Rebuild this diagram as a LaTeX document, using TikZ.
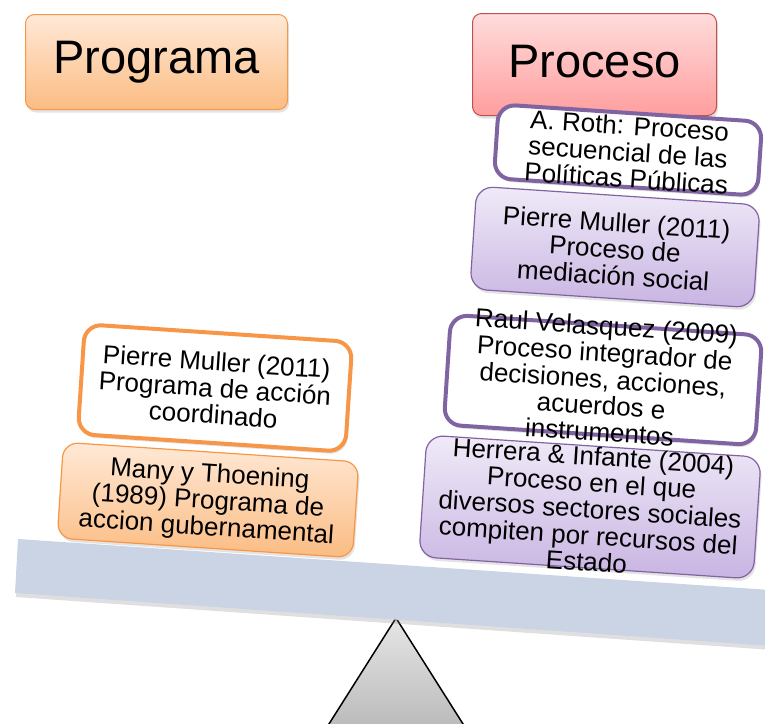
\documentclass[tikz,border=0pt]{standalone}
\usepackage{fontspec}
\setmainfont{Liberation Sans}
\usetikzlibrary{shadows,shapes.misc}
\definecolor{orB}{HTML}{F79646}
\definecolor{orT}{HTML}{FFE9D7}
\definecolor{orBot}{HTML}{FBBC82}
\definecolor{rdB}{HTML}{C0504D}
\definecolor{rdT}{HTML}{FFDCDC}
\definecolor{rdBot}{HTML}{FF9E9E}
\definecolor{puB}{HTML}{8064A2}
\definecolor{puT}{HTML}{F0EAF8}
\definecolor{puBot}{HTML}{C8B4E2}
\definecolor{beamC}{HTML}{CBD4E4}
\newcommand\boxfnt{\fontsize{26}{26.5}\selectfont}
\newcommand\ttlfnt{\fontsize{47}{50}\selectfont}
\tikzset{
  shd/.style={drop shadow={opacity=0.22,shadow xshift=1.5pt,shadow yshift=-3pt}},
  ttlbox/.style={rounded corners=9pt, line width=1pt, shd},
  tiltbox/.style={rotate=-3.8, inner sep=0pt},
  obox/.style={tiltbox, rounded corners=15pt, draw=orB, line width=1.2pt, top color=orT, bottom color=orBot, shd},
  owbox/.style={tiltbox, rounded corners=17pt, draw=orB, line width=4pt, fill=white, shd},
  pbox/.style={tiltbox, rounded corners=17pt, draw=puB, line width=1.2pt, top color=puT, bottom color=puBot, shd},
  pwbox/.style={tiltbox, rounded corners=17pt, draw=puB, line width=4pt, fill=white, shd},
  txt/.style={rotate=-3.8, inner sep=0pt, align=center, font=\boxfnt, text=black},
}
\begin{document}
\begin{tikzpicture}[x=1pt,y=-1pt]
\useasboundingbox (0,0) rectangle (765,723);
\clip (0,0) rectangle (765,723);
% fulcrum
\path[top color=black!10, bottom color=black!28, draw=black, line width=1.5pt]
  (396,618) -- (322,735) -- (470,735) -- cycle;
% beam
\path[fill=beamC, drop shadow={opacity=0.25,shadow xshift=1pt,shadow yshift=-4pt}]
  (18,539) -- (800,592) -- (800,648) -- (15,593) -- cycle;
% titles
\node[ttlbox, draw=orB, top color=orT, bottom color=orBot, minimum width=262pt, minimum height=95pt] (prog) at (156.5,62) {};
\node[font=\ttlfnt] (progt) at (prog) {Programa};
\node[ttlbox, draw=rdB, top color=rdT, bottom color=rdBot, minimum width=244pt, minimum height=102pt] (proc) at (594.5,64.5) {};
\node[font=\ttlfnt] (proct) at ([yshift=3pt]proc.center) {Proceso};
% left stack
\node[obox, minimum width=296pt, minimum height=96pt] (lb1) at (208,500) {};
\node[txt] (lb1t) at ([yshift=-2pt]lb1.center) {Many y Thoening\\(1989) Programa de\\accion gubernamental};
\node[owbox, minimum width=268pt, minimum height=110pt] (lb2) at (215,388) {};
\node[txt] (lb2t) at (lb2.center) {Pierre Muller (2011)\\Programa de acción\\coordinado};
% right stack
\node[pbox, minimum width=335pt, minimum height=122pt] (rb1) at (590,507) {};
\node[txt] (rb1t) at ([yshift=-2pt]rb1.center) {Herrera \& Infante (2004)\\Proceso en el que\\diversos sectores sociales\\compiten por recursos del\\Estado};
\node[pwbox, minimum width=312pt, minimum height=110pt] (rb2) at (603,380) {};
\node[txt] (rb2t) at ([yshift=1pt]rb2.center) {Raul Velasquez (2009)\\Proceso integrador de\\decisiones, acciones,\\acuerdos e\\instrumentos};
\node[pbox, minimum width=284pt, minimum height=103pt] (rb3) at (615,247) {};
\node[txt] (rb3t) at ([yshift=-2pt]rb3.center) {Pierre Muller (2011)\\Proceso de\\mediación social};
\node[pwbox, minimum width=264pt, minimum height=74pt] (rb4) at (628,150) {};
\node[txt] (rb4t) at ([yshift=-2pt]rb4.center) {A. Roth: Proceso\\secuencial de las\\Políticas Públicas};
\end{tikzpicture}
\end{document}
